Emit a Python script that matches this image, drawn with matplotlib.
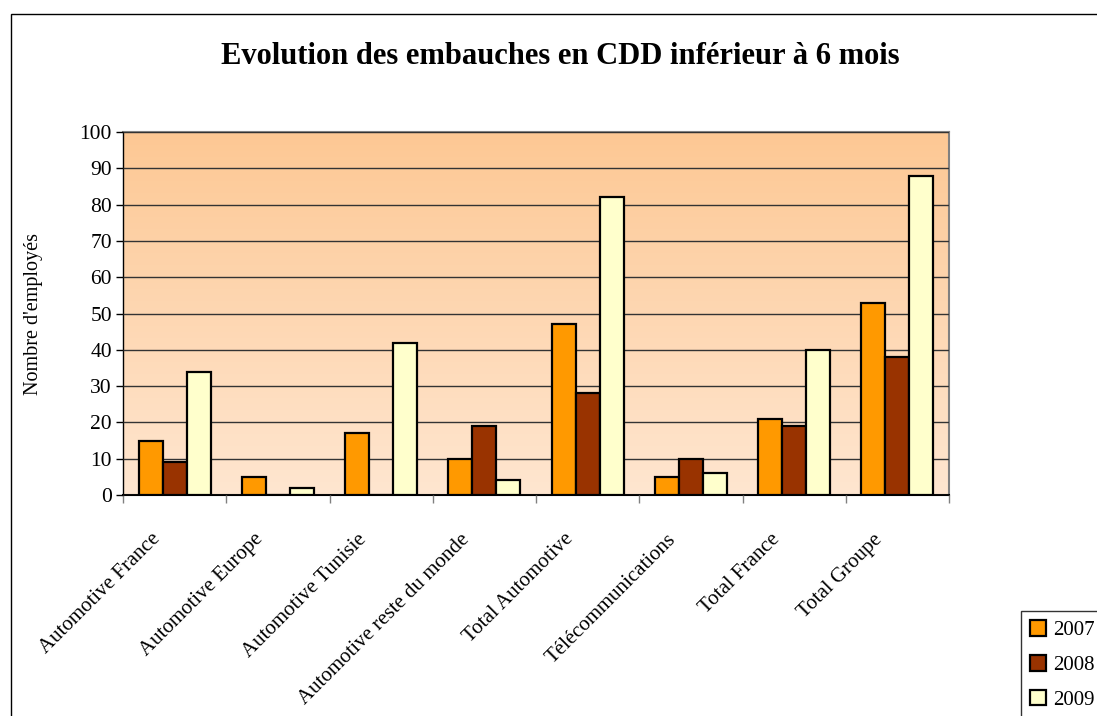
import matplotlib
matplotlib.use("Agg")
import matplotlib.pyplot as plt
import numpy as np
from matplotlib.patches import Rectangle
from matplotlib.colors import LinearSegmentedColormap

categories = ["Automotive France", "Automotive Europe", "Automotive Tunisie",
              "Automotive reste du monde", "Total Automotive", "Télécommunications",
              "Total France", "Total Groupe"]
years = ["2007", "2008", "2009"]
v2007 = [15, 5, 17, 10, 47, 5, 21, 53]
v2008 = [9, 0, 0, 19, 28, 10, 19, 38]
v2009 = [34, 2, 42, 4, 82, 6, 40, 88]
colors = ["#FF9900", "#993300", "#FFFFCC"]
yticks = list(range(0, 101, 10))

plt.rcParams['font.family'] = ['Liberation Serif', 'DejaVu Serif']

W, H = 1097, 716
fig = plt.figure(figsize=(W / 100, H / 100), dpi=100)
fig.patch.set_facecolor("white")

# outer chart border
fig.patches.append(Rectangle((11 / W, -0.1), 1.2, 1 - 14 / H + 0.1, transform=fig.transFigure,
                             fill=False, edgecolor="black", linewidth=1.0))

x0, x1, y0, y1 = 123, 949, 132, 495
ax = fig.add_axes([x0 / W, 1 - y1 / H, (x1 - x0) / W, (y1 - y0) / H])

n = len(categories)
# gradient background
cmap = LinearSegmentedColormap.from_list("bg", ["#FFE6D0", "#FDC894"])
grad = np.linspace(0, 1, 256).reshape(-1, 1)
ax.imshow(grad, aspect="auto", cmap=cmap, origin="lower",
          extent=[0, n, 0, 100], zorder=0)

bw = 1 / 4.3
xs = np.arange(n) + 0.5
for i, (vals, c, lab) in enumerate(zip([v2007, v2008, v2009], colors, years)):
    ax.bar(xs + (i - 1) * bw, vals, width=bw, color=c, edgecolor="black",
           linewidth=1.6, label=lab, zorder=3)

ax.set_xlim(0, n)
ax.set_ylim(0, 100)
ax.set_yticks(yticks)
ax.yaxis.grid(True, color="#333333", linewidth=1.0, zorder=1)
ax.set_axisbelow(False)
ax.set_xticks(np.arange(n + 1))
ax.set_xticklabels([])
ax.tick_params(axis="x", length=6, width=1, color="gray", direction="out")
ax.tick_params(axis="y", length=5, width=1, direction="out", labelsize=15.5, pad=3)

for i, c in enumerate(categories):
    ax.text(i + 0.5 - 0.235, -9.6, c, rotation=45, ha="right", va="top",
            rotation_mode="anchor", fontsize=15, transform=ax.transData)

ax.spines["left"].set_color("black")
ax.spines["bottom"].set_color("black")
ax.spines["top"].set_color("gray")
ax.spines["right"].set_color("gray")
for s in ax.spines.values():
    s.set_linewidth(1.5)
ax.spines["left"].set_linewidth(1.0)

ax.set_ylabel("Nombre d'employés", fontsize=14.5)
ax.yaxis.set_label_coords((43 - x0) / (x1 - x0), 0.5)

fig.text(560 / W, 1 - 56 / H, "Evolution des embauches en CDD inférieur à 6 mois",
         ha="center", va="center", fontsize=22, fontweight="bold")

# legend
leg = fig.legend(loc="upper left", bbox_to_anchor=(1021 / W, 1 - 611 / H),
                 fontsize=15, frameon=True, fancybox=False, edgecolor="black",
                 handlelength=0.75, handleheight=0.75, handletextpad=0.35,
                 labelspacing=0.72, borderpad=0.45, borderaxespad=0)
leg.get_frame().set_linewidth(1.0)

fig.savefig("out.png", dpi=100)
